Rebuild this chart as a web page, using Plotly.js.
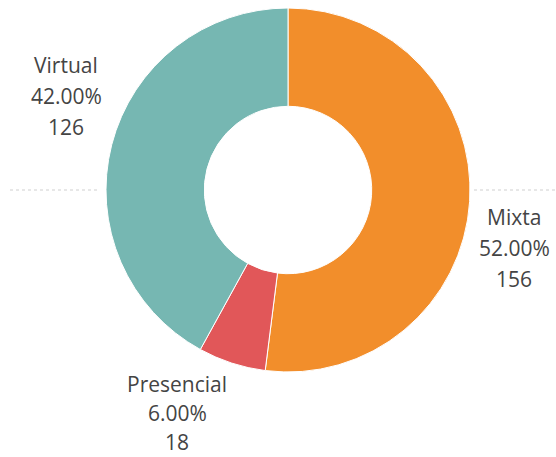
<!DOCTYPE html>
<html><head><meta charset="utf-8">
<script src="https://cdn.plot.ly/plotly-3.0.1.min.js"></script>
<style>html,body{margin:0;padding:0;background:#fff;}#chart{width:556px;height:457px;}</style>
</head><body><div id="chart"></div>
<script>
const categories = ["Mixta", "Presencial", "Virtual"];
const counts = [156, 18, 126];
const percents = [52.00, 6.00, 42.00];
const colors = ["#F28E2B", "#E15759", "#76B7B2"];
// label anchor positions in pixels: [center x, first line y, line gap]
const labelPos = [[514, 217, 31], [177, 384, 29], [66, 65, 31]];

const trace = {
  type: "pie",
  labels: categories,
  values: counts,
  sort: false,
  direction: "clockwise",
  rotation: 0,
  hole: 0.46,
  marker: {colors: colors, line: {color: "#ffffff", width: 1}},
  textinfo: "none",
  hoverinfo: "label+percent+value",
  domain: {x: [106/556, 470/556], y: [1-372/457, 1-8/457]},
  showlegend: false
};

const annotations = [];
categories.forEach((c, i) => {
  const lines = [c, percents[i].toFixed(2) + "%", String(counts[i])];
  lines.forEach((t, k) => {
    annotations.push({
      xref: "paper", yref: "paper",
      x: labelPos[i][0] / 556, y: 1 - (labelPos[i][1] + k * labelPos[i][2]) / 457,
      xanchor: "center", yanchor: "middle",
      text: t, showarrow: false,
      font: {family: "Open Sans, DejaVu Sans, sans-serif", size: 21, color: "#444"}
    });
  });
});

const layout = {
  width: 556, height: 457,
  margin: {l: 0, r: 0, t: 0, b: 0},
  paper_bgcolor: "#fff",
  annotations: annotations,
  shapes: [
    {type: "line", xref: "paper", yref: "paper", x0: 10/556, x1: 97/556, y0: 1-190/457, y1: 1-190/457, line: {color: "#cfcfcf", width: 1, dash: "dot"}},
    {type: "line", xref: "paper", yref: "paper", x0: 474/556, x1: 1, y0: 1-190/457, y1: 1-190/457, line: {color: "#cfcfcf", width: 1, dash: "dot"}}
  ]
};

Plotly.newPlot("chart", [trace], layout, {displayModeBar: false, staticPlot: true});
</script>
</body></html>
